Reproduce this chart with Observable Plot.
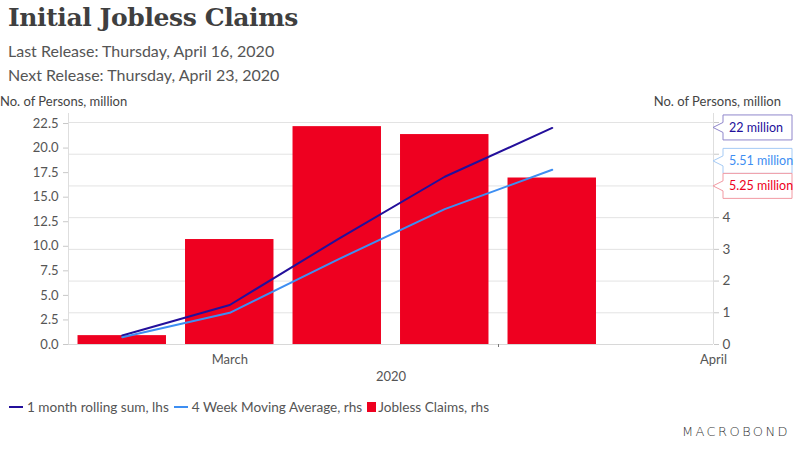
<!DOCTYPE html>
<html>
<head>
<meta charset="utf-8">
<script src="https://cdn.jsdelivr.net/npm/d3@7"></script>
<script src="https://cdn.jsdelivr.net/npm/@observablehq/plot@0.6"></script>
<style>
  html, body { margin: 0; padding: 0; background: #fff; }
  #wrap { position: relative; width: 800px; height: 450px; overflow: hidden; font-family: "Lato", "Noto Sans", sans-serif; color: #444; }
  .abs { position: absolute; white-space: nowrap; }
  #title { left: 8px; top: 3px; font-family: "DejaVu Serif", serif; font-weight: bold; font-size: 25px; color: #3f3f3f; letter-spacing: -0.4px; }
  .sub { left: 8px; font-size: 16px; color: #555; }
  .axt { top: 93px; font-size: 13px; color: #444; }
  #legend { left: 9px; top: 399px; font-size: 13.6px; color: #555; display: flex; align-items: center; }
  #legend .sw { display: inline-block; margin-right: 4px; }
  #legend .item { display: flex; align-items: center; margin-right: 5px; }
  #logo { right: 10px; top: 424px; font-size: 13px; letter-spacing: 2.4px; color: #333; font-family: "DejaVu Sans", sans-serif; font-weight: 300; }
  #chart { position: absolute; left: 0; top: 90px; }
</style>
</head>
<body>
<div id="wrap">
  <div id="title" class="abs">Initial Jobless Claims</div>
  <div class="abs sub" style="top:41px">Last Release: Thursday, April 16, 2020</div>
  <div class="abs sub" style="top:65px">Next Release: Thursday, April 23, 2020</div>
  <div class="abs axt" style="left:0px">No. of Persons, million</div>
  <div class="abs axt" style="right:19px">No. of Persons, million</div>
  <div id="chart"></div>
  <div id="legend" class="abs"></div>
  <div id="logo" class="abs">MACROBOND</div>
</div>
<script>
// ---- data ----
const weeks = ["2020-03-08", "2020-03-15", "2020-03-22", "2020-03-29", "2020-04-05"];
const joblessClaims = [0.28, 3.31, 6.87, 6.62, 5.25];          // rhs, million
const movingAvg4w = [0.23, 1.00, 2.67, 4.27, 5.51];             // rhs, million
const rollingSum1m = [0.92, 4.02, 10.68, 17.08, 22.05];          // lhs, million
const seriesNames = ["1 month rolling sum, lhs", "4 Week Moving Average, rhs", "Jobless Claims, rhs"];
const seriesColors = ["#230f9b", "#3d8ef2", "#ee0020"];
const calloutBorders = ["#8f86cb", "#a6cbf5", "#f29aa3"];
const calloutTexts = ["22 million", "5.51 million", "5.25 million"];
const leftTicks = [0, 2.5, 5, 7.5, 10, 12.5, 15, 17.5, 20, 22.5];
const rightTicks = [0, 1, 2, 3, 4, 5, 6, 7];
const rightTickLabels = [0, 1, 2, 3, 4];
const monthLabels = [{date: "2020-03-15T00:00", label: "March"}, {date: "2020-04-15T12:00", label: "April"}];
const monthBoundaryTick = ["2020-04-01T12:00"];
const xDomain = ["2020-03-04T12:00", "2020-04-15T12:00"];
const yearLabel = "2020";

// ---- helpers ----
const parse = s => new Date(s + (s.length === 10 ? "T00:00Z" : "Z"));
const K = 3.229;   // rhs -> lhs unit conversion (dual axis)
const DAY = 864e5;
const barHalf = 2.88 * DAY;

const claims = weeks.map((w, i) => ({date: parse(w), v: joblessClaims[i]}));
const ma = weeks.map((w, i) => ({date: parse(w), v: movingAvg4w[i]}));
const roll = weeks.map((w, i) => ({date: parse(w), v: rollingSum1m[i]}));
const callouts = [
  {v: rollingSum1m[rollingSum1m.length - 1], text: calloutTexts[0], border: calloutBorders[0], color: seriesColors[0]},
  {v: movingAvg4w[movingAvg4w.length - 1] * K, text: calloutTexts[1], border: calloutBorders[1], color: seriesColors[1]},
  {v: joblessClaims[joblessClaims.length - 1] * K, text: calloutTexts[2], border: calloutBorders[2], color: seriesColors[2]}
];

function calloutMark(index, scales, values, dimensions) {
  const g = d3.create("svg:g");
  const x0 = dimensions.width - dimensions.marginRight;
  const ptr = 10, w = 69, h = 25;
  let items = callouts.map(c => ({...c, y: scales.y(c.v)})).sort((a, b) => a.y - b.y);
  // simple collision avoidance: spread overlapping neighbours around their mean
  for (let iter = 0; iter < 10; iter++) {
    for (let i = 1; i < items.length; i++) {
      const a = items[i - 1], b = items[i];
      if (b.y - a.y < h) { const m = (a.y + b.y) / 2; a.y = m - h / 2; b.y = m + h / 2; }
    }
  }
  for (const c of items) {
    const top = c.y - h / 2, bot = c.y + h / 2, L = x0 + ptr, R = L + w;
    g.append("path")
      .attr("d", `M${x0},${c.y}L${L},${c.y - 5}L${L},${top}L${R},${top}L${R},${bot}L${L},${bot}L${L},${c.y + 5}Z`)
      .attr("fill", "#fff").attr("stroke", c.border).attr("stroke-width", 1);
    g.append("text").attr("x", L + 6).attr("y", c.y).attr("dy", "0.35em")
      .attr("text-anchor", "start")
      .attr("fill", c.color).attr("font-size", 12.5).text(c.text);
  }
  return g.node();
}

const chart = Plot.plot({
  width: 800,
  height: 300,
  marginTop: 23,
  marginBottom: 46,
  marginLeft: 68,
  marginRight: 87,
  style: {fontFamily: "Lato, 'Noto Sans', sans-serif", fontSize: "13px", color: "#555", background: "transparent"},
  x: {type: "utc", domain: xDomain.map(parse)},
  y: {domain: [0, 23.52]},
  marks: [
    Plot.ruleY(rightTicks.slice(1), {y: d => d * K, stroke: "#e3e3e3"}),
    Plot.ruleY([0], {stroke: "#d8d8d8"}),
    Plot.ruleX(xDomain.map(parse), {stroke: "#dedede"}),
    Plot.rectY(claims, {x1: d => new Date(+d.date - barHalf), x2: d => new Date(+d.date + barHalf), y1: 0, y2: d => d.v * K, fill: seriesColors[2]}),
    Plot.line(roll, {x: "date", y: "v", stroke: seriesColors[0], strokeWidth: 2}),
    Plot.line(ma, {x: "date", y: d => d.v * K, stroke: seriesColors[1], strokeWidth: 2}),
    // left axis
    Plot.axisY({ticks: leftTicks, tickSize: 5, tickFormat: () => "", stroke: "#c8c8c8", anchor: "left", label: null}),
    Plot.axisY({ticks: leftTicks, tickSize: 0, tickPadding: 10, tickFormat: d3.format(".1f"), anchor: "left", fill: "#555", label: null}),
    // right axis
    Plot.axisY({ticks: rightTicks.map(d => d * K), tickSize: 5, tickFormat: () => "", stroke: "#c8c8c8", anchor: "right", label: null}),
    Plot.axisY({ticks: rightTickLabels.map(d => d * K), tickSize: 0, tickPadding: 9, tickFormat: d => String(Math.round(d / K)), anchor: "right", fill: "#555", fontSize: 13.5, label: null}),
    // x axis
    Plot.axisX({ticks: monthBoundaryTick.map(parse), tickSize: 3, tickFormat: () => "", stroke: "#777", label: null}),
    Plot.axisX({ticks: monthLabels.map(d => parse(d.date)), tickSize: 0, tickPadding: 10, tickFormat: d => monthLabels.find(m => +parse(m.date) === +d).label, fill: "#555", label: null}),
    Plot.text([yearLabel], {frameAnchor: "bottom", dy: 36, fill: "#555", fontSize: 13}),
    calloutMark
  ]
});
document.getElementById("chart").appendChild(chart);

// legend
const legend = d3.select("#legend");
seriesNames.forEach((name, i) => {
  const it = legend.append("div").attr("class", "item");
  if (i < 2) it.append("span").attr("class", "sw").style("width", "14px").style("height", "2px").style("background", seriesColors[i]);
  else it.append("span").attr("class", "sw").style("width", "9px").style("height", "10px").style("background", seriesColors[i]).style("margin-right", "2px");
  it.append("span").text(name);
});
</script>
</body>
</html>
